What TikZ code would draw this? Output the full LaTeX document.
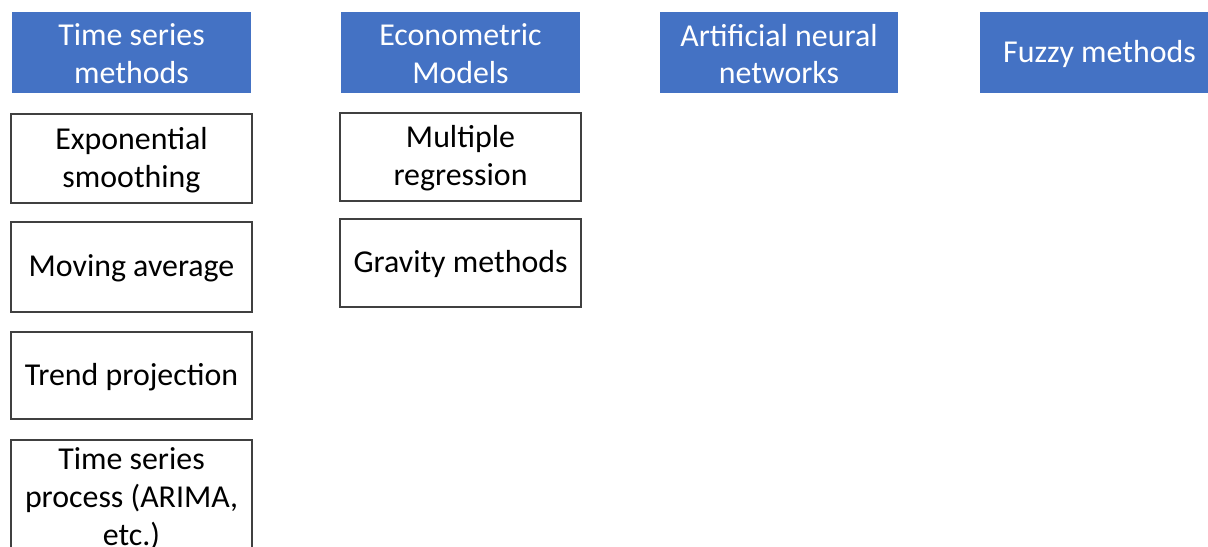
\documentclass[tikz,border=0pt]{standalone}
\usepackage{fontspec}
\setmainfont{Carlito}
\definecolor{hdrblue}{HTML}{4472C4}
\definecolor{boxline}{HTML}{404040}
\begin{document}
\begin{tikzpicture}[x=1bp,y=-1bp,
  txt/.style={inner sep=0pt, align=center, font=\fontsize{32}{38}\selectfont, yshift=-1.5bp},
  hdr/.style={fill=hdrblue, draw=none, inner sep=0pt},
  item/.style={fill=white, draw=boxline, line width=1.4bp, inner sep=0pt}]
\useasboundingbox (0,0) rectangle (1208,547);
\clip (0,0) rectangle (1208,547);
% headers
\node[hdr, minimum width=239bp, minimum height=81bp,
  label={[txt, text=white]center:{Time series\\methods}}] (h1) at (131.5,52.5) {};
\node[hdr, minimum width=239bp, minimum height=81bp,
  label={[txt, text=white]center:{Econometric\\Models}}] (h2) at (460.5,52.5) {};
\node[hdr, minimum width=238bp, minimum height=81bp,
  label={[txt, text=white]center:{Artificial neural\\networks}}] (h3) at (779,52.5) {};
\node[hdr, minimum width=239bp, minimum height=81bp,
  label={[txt, text=white]center:{Fuzzy methods}}] (h4) at (1099.5,52.5) {};
% time series column
\node[item, minimum width=241bp, minimum height=89bp,
  label={[txt]center:{Exponential\\smoothing}}] (b1) at (131.5,158.5) {};
\node[item, minimum width=241bp, minimum height=90bp,
  label={[txt]center:{Moving average}}] (b2) at (131.5,267) {};
\node[item, minimum width=241bp, minimum height=87bp,
  label={[txt]center:{Trend projection}}] (b3) at (131.5,375.5) {};
\node[item, minimum width=241bp, minimum height=114bp,
  label={[txt]center:{Time series\\process (ARIMA,\\etc.)}}] (b4) at (131.5,497) {};
% econometric column
\node[item, minimum width=241bp, minimum height=88bp,
  label={[txt]center:{Multiple\\regression}}] (c1) at (460.5,157) {};
\node[item, minimum width=241bp, minimum height=88bp,
  label={[txt]center:{Gravity methods}}] (c2) at (460.5,263) {};
\end{tikzpicture}
\end{document}
